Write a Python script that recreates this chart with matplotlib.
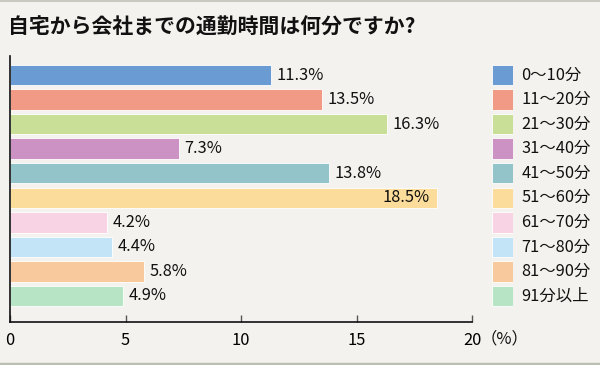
import matplotlib
matplotlib.use("Agg")
import matplotlib.pyplot as plt
from matplotlib.lines import Line2D

plt.rcParams['font.family'] = ['Noto Sans CJK JP', 'DejaVu Sans']

title = "自宅から会社までの通勤時間は何分ですか?"
categories = ["0～10分", "11～20分", "21～30分", "31～40分", "41～50分",
              "51～60分", "61～70分", "71～80分", "81～90分", "91分以上"]
values = [11.3, 13.5, 16.3, 7.3, 13.8, 18.5, 4.2, 4.4, 5.8, 4.9]
colors = ["#6b9bd3", "#f19a85", "#c9df97", "#cc92c3", "#93c4c9",
          "#fcdc9a", "#f8d3e4", "#c3e3f6", "#f8c99d", "#b6e4c5"]
xticks = [0, 5, 10, 15, 20]
xticklabels = ["0", "5", "10", "15", "20"]
unit_label = "（%）"

BG = "#f3f2ee"
W, H = 600, 365
FS = 11.8
fig = plt.figure(figsize=(W / 100, H / 100), dpi=100, facecolor=BG)

def box(x0, y0, x1, y1):
    return [x0 / W, 1 - y1 / H, (x1 - x0) / W, (y1 - y0) / H]

ax = fig.add_axes(box(10, 56, 472, 322))
ax.set_facecolor(BG)
ypos = list(range(len(values)))
ax.barh(ypos, values, height=0.83, color=colors, edgecolor="white", linewidth=0.6, zorder=2)
ax.set_xlim(0, 20)
ax.set_ylim(10.06, -0.774)
ax.set_yticks([])
ax.set_xticks(xticks)
ax.set_xticklabels(xticklabels, fontsize=FS)
ax.tick_params(axis='x', direction='in', length=5, width=1, color="#555555", pad=7)
for s in ["top", "right"]:
    ax.spines[s].set_visible(False)
for s in ["left", "bottom"]:
    ax.spines[s].set_color("#111111")
    ax.spines[s].set_linewidth(1.2)

for i, v in enumerate(values):
    if v > 18:
        ax.annotate(f"{v:.1f}%", (v, i), xytext=(-5.5, 0), textcoords="offset points",
                    ha="right", va="center", fontsize=FS, color="#111111", zorder=3)
    else:
        ax.annotate(f"{v:.1f}%", (v, i), xytext=(4, 0), textcoords="offset points",
                    ha="left", va="center", fontsize=FS, color="#111111", zorder=3)

ax.annotate(unit_label, (20, 0), xycoords=("data", "axes fraction"), xytext=(6, -12.5),
            textcoords="offset points", ha="left", va="center", fontsize=FS,
            color="#111111", annotation_clip=False)

# legend
lax = fig.add_axes(box(492, 56, 513, 322))
lax.set_facecolor("none")
lax.barh(ypos, [1] * len(values), height=0.83, color=colors, edgecolor="white", linewidth=0.6)
lax.set_xlim(0, 1)
lax.set_ylim(10.06, -0.774)
lax.axis("off")
for i, c in enumerate(categories):
    lax.annotate(c, (1, i), xytext=(6, 0), textcoords="offset points",
                 ha="left", va="center", fontsize=FS, color="#111111",
                 annotation_clip=False)

fig.text(8 / W, 1 - 27 / H, title, fontsize=15, fontweight="bold", ha="left",
         va="center", color="#111111")

fig.add_artist(Line2D([0, 1], [1 - 0.8 / H, 1 - 0.8 / H], color="#c9c9c2", linewidth=1.5,
                      transform=fig.transFigure))
fig.add_artist(Line2D([0, 1], [1.2 / H, 1.2 / H], color="#b9c0b2", linewidth=2.5,
                      transform=fig.transFigure))

fig.savefig("out.png", dpi=100, facecolor=BG)
